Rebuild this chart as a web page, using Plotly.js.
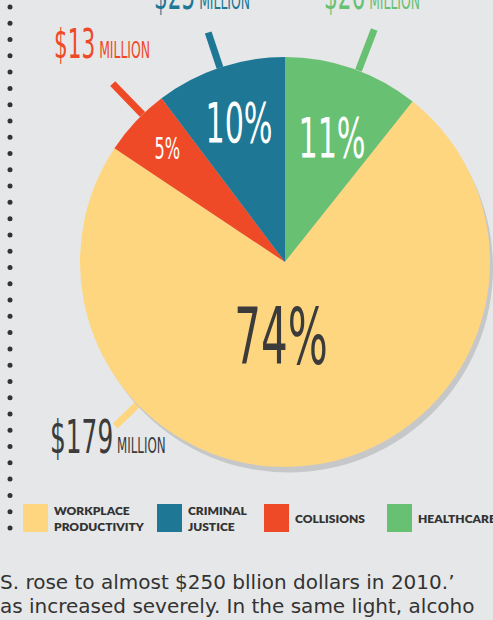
<!DOCTYPE html>
<html>
<head>
<meta charset="utf-8">
<script src="https://cdn.plot.ly/plotly-3.0.1.min.js"></script>
<style>html,body{margin:0;padding:0;background:#e6e7e8;overflow:hidden}</style>
</head>
<body>
<div id="chart" style="width:493px;height:620px"></div>
<script>
// ---- data ----
const categories = ['HEALTHCARE', 'WORKPLACE PRODUCTIVITY', 'COLLISIONS', 'CRIMINAL JUSTICE'];
const costs = [26, 179, 13, 25]; // $ million
const sliceColors = ['#68c172', '#fed680', '#ef4a28', '#1d7795'];
const legendOrder = [1, 3, 2, 0];
const legendLabels = ['WORKPLACE<br>PRODUCTIVITY', 'CRIMINAL<br>JUSTICE', 'COLLISIONS', 'HEALTHCARE'];
const bodyLines = ['S. rose to almost $250 bllion dollars in 2010.\u2019', 'as increased severely. In the same light, alcoho'];

// ---- layout helpers (style only) ----
const W = 493, H = 620;
const px = x => x / W, py = y => 1 - y / H;
const cx = 285, cy = 262, R = 205;
const bg = '#e6e7e8', dark = '#3b3b3b';
const total = costs.reduce((a, b) => a + b, 0);

const pctPos = [[332, 137], [281, 337], [167, 148], [239, 122]];
const pctSize = [56, 78, 30, 56];
const pctColor = ['#ffffff', dark, '#ffffff', '#ffffff'];
const leaderAngle = [21, 226, 316, 341.5];
const leaderR = [[205, 249], [203, 236], [205, 248], [205, 242]];
const moneyPos = [[322, -5], [48, 437], [52, 44], [152, -5]];
const moneyColor = ['#68c172', dark, '#ef4a28', '#1d7795'];
const moneySize = [[40, 23], [46, 22], [40, 23], [40, 23]];
const font = '"DejaVu Sans Condensed", "DejaVu Sans", sans-serif';
const squeeze = 0.6;

const traces = [
  { type: 'pie', values: [total], marker: { colors: ['#c6c7c9'], line: { width: 0 } },
    domain: { x: [px(cx - R + 4), px(cx + R + 4)], y: [py(cy + R + 6), py(cy - R + 6)] },
    textinfo: 'none', hoverinfo: 'skip', showlegend: false, sort: false },
  { type: 'pie', labels: categories, values: costs, marker: { colors: sliceColors, line: { width: 0 } },
    domain: { x: [px(cx - R), px(cx + R)], y: [py(cy + R), py(cy - R)] },
    direction: 'clockwise', rotation: 0, sort: false, textinfo: 'none', hoverinfo: 'skip', showlegend: false }
];

const shapes = [];
const annotations = [];
const squeezed = {}; // annotation index -> transform origin

// dotted vertical line
for (let i = 0; i < 33; i++) {
  const y = 7 + i * 16.28;
  shapes.push({ type: 'circle', xref: 'paper', yref: 'paper', x0: px(7.5), x1: px(12.5), y0: py(y + 2.5), y1: py(y - 2.5),
    fillcolor: '#333', line: { width: 0 } });
}

costs.forEach((v, i) => {
  const a = leaderAngle[i] * Math.PI / 180;
  const [r0, r1] = leaderR[i];
  shapes.push({ type: 'line', xref: 'paper', yref: 'paper', layer: 'below',
    x0: px(cx + r0 * Math.sin(a)), y0: py(cy - r0 * Math.cos(a)),
    x1: px(cx + r1 * Math.sin(a)), y1: py(cy - r1 * Math.cos(a)),
    line: { color: sliceColors[i], width: 7 } });
  squeezed[annotations.length] = 'center';
  annotations.push({ xref: 'paper', yref: 'paper', x: px(pctPos[i][0]), y: py(pctPos[i][1]),
    xanchor: 'center', yanchor: 'middle', showarrow: false,
    text: Math.round(v / total * 100) + '%', font: { family: font, size: pctSize[i], color: pctColor[i] } });
  squeezed[annotations.length] = 'left';
  annotations.push({ xref: 'paper', yref: 'paper', x: px(moneyPos[i][0]), y: py(moneyPos[i][1]),
    xanchor: 'left', yanchor: 'middle', showarrow: false,
    text: '$' + v + '<span style="font-size:' + moneySize[i][1] + 'px"> MILLION</span>',
    font: { family: font, size: moneySize[i][0], color: moneyColor[i] } });
});

// custom legend
const legX = [23, 157, 264, 387];
legendOrder.forEach((k, j) => {
  shapes.push({ type: 'rect', xref: 'paper', yref: 'paper', x0: px(legX[j]), x1: px(legX[j] + 25),
    y0: py(532), y1: py(504), fillcolor: sliceColors[k], line: { width: 0 } });
  annotations.push({ xref: 'paper', yref: 'paper', x: px(legX[j] + 29), y: py(518), xanchor: 'left', yanchor: 'middle',
    align: 'left', showarrow: false, text: legendLabels[j],
    font: { family: 'Lato, sans-serif', size: 12, color: '#333', weight: 800 } });
});

// body text
bodyLines.forEach((t, i) => {
  annotations.push({ xref: 'paper', yref: 'paper', x: px(-2), y: py(582 + i * 24), xanchor: 'left', yanchor: 'middle',
    showarrow: false, text: t, font: { family: '"DejaVu Sans", sans-serif', size: 20, color: '#333' } });
});

Plotly.newPlot('chart', traces, {
  width: W, height: H, margin: { l: 0, r: 0, t: 0, b: 0 },
  paper_bgcolor: bg, plot_bgcolor: bg, showlegend: false,
  shapes: shapes, annotations: annotations
}, { staticPlot: true }).then(gd => {
  // narrow the display numerals horizontally (condensed poster type)
  gd.querySelectorAll('.annotation').forEach(g => {
    const idx = +g.getAttribute('data-index');
    if (!(idx in squeezed)) return;
    const t = g.querySelector('text');
    t.style.transformBox = 'fill-box';
    t.style.transformOrigin = squeezed[idx] === 'left' ? 'left center' : 'center';
    t.style.transform = 'scaleX(' + squeeze + ')';
  });
});
</script>
</body>
</html>
